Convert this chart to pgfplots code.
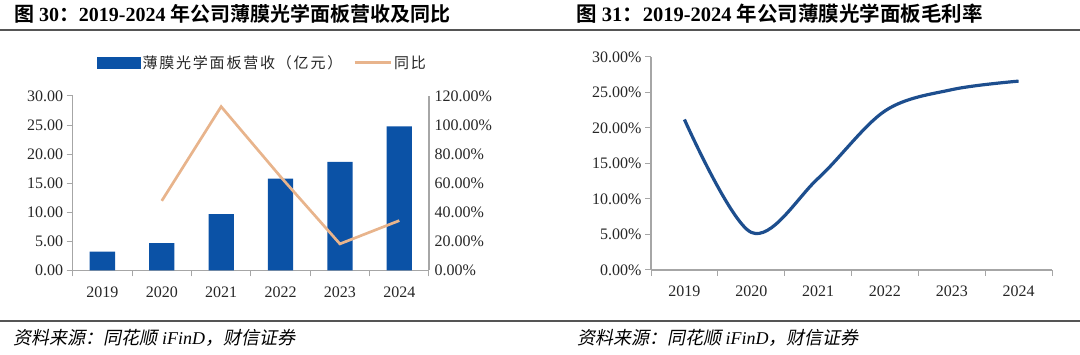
\documentclass[border=0pt]{standalone}
\usepackage{pgfplots}
\pgfplotsset{compat=1.18}
\usepackage{fontspec}
\setmainfont{Liberation Serif}
\newfontfamily\cjk{Noto Sans CJK SC}
\newfontfamily\cjkb{Noto Sans CJK SC Bold}
\newfontfamily\cjki{Noto Sans CJK SC}[FakeSlant=0.2]
\newfontfamily\cjkleg{Noto Sans CJK SC}[LetterSpace=12]
\definecolor{barblue}{HTML}{0B52A6}
\definecolor{lineorange}{HTML}{E8B48C}
\definecolor{navy}{HTML}{1D4E8E}
\definecolor{axisgray}{HTML}{A6A6A6}
\definecolor{rulegray}{HTML}{555555}
\definecolor{lbl}{HTML}{262626}
\pgfplotsset{
  common/.style={
    scale only axis,
    xmin=-0.5, xmax=5.5,
    axis line style={axisgray, line width=1.1pt},
    tick style={axisgray, line width=1pt},
    tick align=outside,
    major tick length=6pt,
    ticklabel style={font=\fontsize{16}{18}\selectfont, text=lbl},
    xtick={0,1,2,3,4,5},
    xticklabels={2019,2020,2021,2022,2023,2024},
    xtick style={draw=none},
    xticklabel style={yshift=-6.5pt},
    extra x ticks={-0.5,0.5,1.5,2.5,3.5,4.5,5.5},
    extra x tick labels={,,,,,,},
    extra x tick style={xtick style={draw=axisgray, line width=1pt}},
  }
}
\begin{document}
\begin{tikzpicture}[x=1pt,y=1pt]
\useasboundingbox (0,0) rectangle (1080,355);
% rules
\fill[rulegray] (0,355-31.2) rectangle (1080,355-29.2);
\fill[rulegray] (0,355-322.3) rectangle (1080,355-320.3);
% titles
\node[anchor=west, inner sep=0] at (13.8,355-14) {\fontsize{20}{24}\selectfont {\cjkb 图} \textbf{30}{\cjkb ：}\textbf{2019-2024} {\cjkb 年公司薄膜光学面板营收及同比}};
\node[anchor=west, inner sep=0] at (576,355-14) {\fontsize{20.5}{24}\selectfont {\cjkb 图} \textbf{31}{\cjkb ：}\textbf{2019-2024} {\cjkb 年公司薄膜光学面板毛利率}};
% sources
\node[anchor=west, inner sep=0] at (13.5,355-337.5) {\fontsize{18}{20}\selectfont {\cjki 资料来源：同花顺} \textit{iFinD}{\cjki ，财信证券}};
\node[anchor=west, inner sep=0] at (577,355-337.5) {\fontsize{18}{20}\selectfont {\cjki 资料来源：同花顺} \textit{iFinD}{\cjki ，财信证券}};

% left chart: bars
\begin{axis}[common,
  at={(72.7pt,84.5pt)}, anchor=south west, width=356.3pt, height=174.5pt,
  ymin=0, ymax=30,
  axis x line*=bottom, axis y line*=left,
  ytick={0,5,10,15,20,25,30},
  yticklabels={0.00,5.00,10.00,15.00,20.00,25.00,30.00},
]
\addplot[ybar, bar width=25.3pt, fill=barblue, draw=none] coordinates {
  (0,3.26) (1,4.69) (2,9.67) (3,15.80) (4,18.66) (5,24.78)};
\end{axis}
% left chart: line on right axis
\begin{axis}[
  scale only axis,
  at={(72.7pt,84.5pt)}, anchor=south west, width=356.3pt, height=174.5pt,
  xmin=-0.5, xmax=5.5, ymin=0, ymax=120,
  axis x line=none, axis y line*=right,
  axis line style={axisgray, line width=1.1pt},
  ytick={0,20,40,60,80,100,120},
  yticklabels={0.00\%,20.00\%,40.00\%,60.00\%,80.00\%,100.00\%,120.00\%},
  major tick length=0pt, tick style={draw=none},
  ticklabel style={font=\fontsize{16}{18}\selectfont, text=lbl},
  yticklabel style={xshift=2pt},
  legend columns=2,
  legend style={at={(0.068,1.19)}, anchor=west, draw=none, fill=none, inner sep=0pt,
    font=\fontsize{15}{17}\selectfont\cjkleg, text=lbl,
    nodes={inner xsep=2pt},
    /tikz/every even column/.append style={column sep=9pt}},
]
\addlegendimage{legend image code/.code={\fill[barblue] (0pt,-5.8pt) rectangle (43pt,5.8pt);}}
\addlegendentry{薄膜光学面板营收（亿元）}
\addplot[lineorange, line width=2.7pt, legend image code/.code={\draw[lineorange,line width=2.7pt] (0pt,0pt) -- (36pt,0pt);}]
  coordinates {(1,47.9) (2,112.7) (3,64.5) (4,18.3) (5,34.3)};
\addlegendentry{同比}
\end{axis}

% right chart
\begin{axis}[common,
  at={(651pt,85pt)}, anchor=south west, width=401pt, height=213pt,
  ymin=0, ymax=30,
  axis x line*=bottom, axis y line*=left,
  ytick={0,5,10,15,20,25,30},
  yticklabels={0.00\%,5.00\%,10.00\%,15.00\%,20.00\%,25.00\%,30.00\%},
]
\addplot[navy, line width=3.2pt, smooth, tension=0.55] coordinates {
  (0,21.2) (1,5.3) (2,12.9) (3,22.4) (4,25.4) (5,26.6)};
\end{axis}
\end{tikzpicture}
\end{document}
